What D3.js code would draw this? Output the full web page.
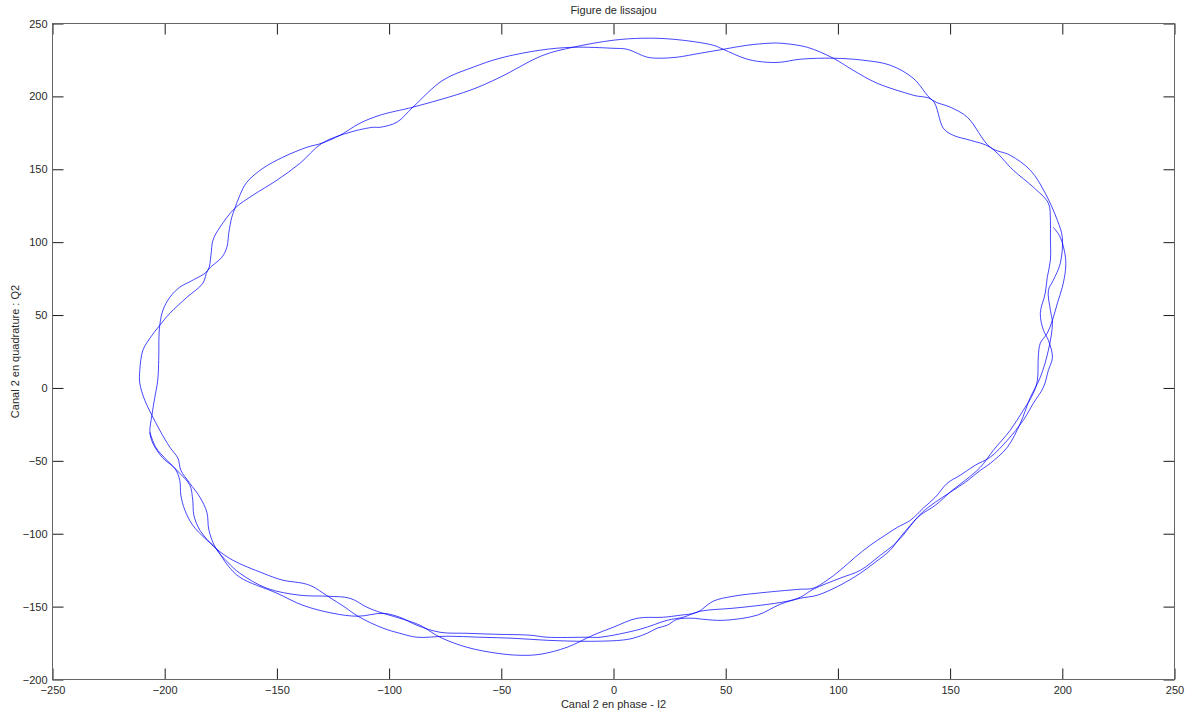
<!DOCTYPE html>
<html><head><meta charset="utf-8">
<script src="https://cdn.jsdelivr.net/npm/d3@7"></script>
<style>html,body{margin:0;padding:0;background:#fff;} svg{display:block;font-family:"Liberation Sans",Arial,Helvetica,sans-serif;}</style>
</head><body><svg id="chart" width="1187" height="715"></svg>
<script>
const titleText = "Figure de lissajou";
const xLabelText = "Canal 2 en phase - I2";
const yLabelText = "Canal 2 en quadrature : Q2";
const xTicks = [-250,-200,-150,-100,-50,0,50,100,150,200,250];
const yTicks = [-200,-150,-100,-50,0,50,100,150,200,250];

// [I2, Q2] samples
const pass1 = [
[-95.2,190.5],[-104.1,187.1],[-113.0,181.6],[-121.9,173.3],[-129.9,167.9],[-136.6,165.1],[-147.3,158.3],[-156.2,150.7],[-163.4,141.1],[-166.5,132.2],[-168.7,123.3],[-170.1,117.1],[-171.4,106.8],[-172.3,96.5],[-174.5,89.7],[-180.8,80.7],[-183.0,71.8],[-190.1,62.2],[-197.7,51.2],[-202.2,43.0],[-206.6,34.1],[-209.7,25.9],[-211.1,12.1],[-211.1,3.2],[-208.9,-8.4],[-205.7,-18.7],
[-202.2,-29.0],[-197.7,-40.7],[-194.1,-48.2],[-192.8,-56.5],[-188.8,-65.4],[-184.3,-75.0],[-181.2,-85.3],[-180.3,-97.6],[-177.2,-110.0],
[-171.9,-119.6],[-166.5,-127.1],[-154.5,-137.4],[-139.7,-142.2],[-127.3,-142.9],[-117.4,-144.3],[-109.9,-150.4],[-104.1,-153.9],[-95.2,-158.0],
[-86.2,-162.8],[-77.3,-171.0],[-65.3,-177.9],[-51.9,-182.0],[-41.6,-183.4],[-32.7,-182.7],[-20.7,-177.9],[-9.1,-169.6],[-0.2,-164.2],[10.5,-158.0],[22.1,-157.3],[29.7,-155.9],[37.3,-153.9],[44.4,-146.3],[53.3,-142.9],[68.5,-140.1],[83.2,-138.1],[89.0,-137.4],[95.2,-131.9],[101.0,-125.1],[107.7,-116.1],[114.4,-107.9],[121.1,-101.0],[126.5,-95.6],[132.3,-90.8],[138.0,-82.5],[143.4,-75.0],[148.7,-65.4],[154.5,-59.9],[161.2,-53.0],[167.9,-47.5],
[175.5,-35.9],[182.6,-22.2],[187.1,-10.5],[191.6,0.5],[193.8,12.1],[195.6,21.1],[193.8,32.7],[191.6,39.6],[190.2,51.2],[192.4,65.0],[193.3,75.9],[194.7,87.6],[194.7,103.4],[194.7,115.0],[193.8,126.7],[187.1,137.7],[178.2,149.3],
[167.9,165.1],[159.0,169.9],[151.4,173.3],[147.0,178.1],[142.1,197.4],[133.6,200.8],[117.5,209.0],[106.8,217.9],[97.9,226.2],[86.3,233.7],[74.3,236.5],
[69.8,236.5],[59.6,235.1],[48.9,232.3],[38.6,229.6],[28.4,226.9],[20.8,226.2],[15.0,226.9],[6.1,232.3],[-0.2,233.0],[-18.0,233.7],[-32.7,231.7],[-50.6,226.2],[-62.6,220.0],[-76.0,211.1],[-89.4,192.6],[-96.5,182.3],[-104.1,178.8]
];
const pass2 = [
[-107.2,178.8],[-117.4,175.4],[-129.9,167.9],[-139.7,154.1],[-150.0,142.5],[-160.7,132.2],[-168.7,123.3],[-175.4,110.2],[-178.5,101.3],[-179.4,91.0],[-180.8,80.7],[-187.5,73.9],[-193.3,69.1],[-197.7,62.2],[-200.8,53.3],[-202.2,43.0],[-202.6,32.7],[-202.6,25.9],[-203.1,5.3],[-204.4,-6.4],[-205.7,-18.7],[-206.6,-30.4],
[-205.3,-37.9],[-200.8,-48.2],[-195.5,-55.1],[-193.3,-63.3],[-192.8,-73.6],[-191.0,-83.9],[-187.5,-94.2],[-182.1,-103.1],[-177.2,-110.0],
[-171.9,-121.7],[-166.5,-129.9],[-150.0,-140.8],[-138.4,-149.1],[-125.0,-154.6],[-113.9,-156.6],[-102.7,-154.6],[-95.2,-157.3],
[-87.6,-162.8],[-77.3,-167.6],[-65.3,-168.3],[-51.9,-169.0],[-37.2,-169.6],[-29.6,-171.0],[-11.8,-171.0],[-6.0,-171.0],[11.9,-165.5],[23.9,-159.4],[31.0,-157.3],[38.6,-153.2],[53.3,-151.1],[65.4,-149.1],[77.4,-146.3],[83.2,-143.6],[89.0,-138.1],[101.0,-130.5],[110.0,-125.1],[118.9,-114.8],[124.7,-107.9],[129.1,-101.0],[133.6,-92.1],[137.6,-85.3],[143.4,-78.4],[150.1,-71.5],[156.8,-64.7],[163.5,-56.5],[167.9,-51.7],
[175.5,-40.7],[181.3,-24.2],[185.8,-6.4],[190.2,7.3],[193.8,25.9],[195.6,44.4],[194.7,53.3],[193.8,67.0],[196.0,73.9],[199.1,85.5],[200.0,103.4],[197.8,115.0],[192.4,133.6],[185.8,149.3],
[176.8,159.6],[167.9,165.1],[157.7,185.7],[150.1,192.6],[142.1,197.4],[133.6,212.4],[123.3,221.4],[111.3,224.8],[97.9,226.2],[83.2,225.5],[74.3,223.4],
[68.5,223.4],[59.6,225.5],[48.9,232.3],[44.4,235.1],[26.6,239.2],[13.2,239.9],[-0.2,238.5],[-18.0,233.7],[-31.4,228.2],[-50.6,213.1],[-63.9,204.2],[-89.4,192.6]
];
const pass3 = [
[-206.6,-30.4],[-204.0,-40.7],[-199.0,-49.6],[-193.3,-58.5],[-188.8,-66.7],[-187.5,-77.0],[-187.0,-87.3],[-184.3,-97.6],[-177.2,-110.0],
[-169.6,-118.2],[-156.2,-127.1],[-147.3,-131.9],[-138.4,-134.0],[-134.4,-136.0],[-127.3,-142.9],[-119.7,-150.4],[-113.9,-156.6],[-102.7,-164.8],[-95.2,-168.3],
[-87.6,-171.0],[-74.2,-170.3],[-59.5,-171.0],[-44.8,-171.7],[-29.6,-173.1],[-11.8,-173.8],[2.9,-173.1],[8.7,-171.7],[15.0,-168.3],[19.4,-164.8],[23.9,-162.8],[28.4,-158.7],[35.5,-158.0],[40.0,-158.7],[48.9,-159.4],[64.0,-155.9],[74.3,-148.4],[83.2,-144.3],[90.8,-142.2],[101.0,-135.3],[110.0,-127.1],[116.6,-119.6],[123.3,-111.3],[127.8,-102.4],[132.3,-94.2],[136.7,-87.3],[143.4,-80.5],[151.0,-70.2],[156.8,-63.3],[163.5,-54.4],[169.3,-42.7],
[176.8,-29.0],[182.6,-15.3],[187.1,-3.6],[188.9,5.3],[189.3,21.1],[190.2,30.7],[193.3,37.5],[195.6,46.4],[197.8,58.1],[200.0,69.1],[201.4,80.7],[201.4,89.7],[199.1,103.4],[196.0,110.2]
];

const svg = d3.select("#chart");
const plot = {left:52.5, right:1174.5, top:23.5, bottom:679.5};
const x = d3.scaleLinear().domain([-250,250]).range([plot.left, plot.right]);
const y = d3.scaleLinear().domain([-200,250]).range([plot.bottom, plot.top]);

svg.append("rect").attr("width",1187).attr("height",715).attr("fill","#fff");

function styleAxis(g){
  g.select(".domain").remove();
  g.selectAll(".tick line").attr("stroke","#1a1a1a");
  g.selectAll(".tick text").attr("fill","#2a2a2a").style("font-size","11px").style("font-family",'"Liberation Sans",Arial,sans-serif');
}
const tl = 11;
svg.append("g").attr("transform",`translate(0,${plot.bottom})`)
  .call(d3.axisBottom(x).tickValues(xTicks).tickSizeInner(-tl).tickSizeOuter(0).tickPadding(7).tickFormat(d3.format("d")))
  .call(styleAxis);
svg.append("g").attr("transform",`translate(0,${plot.top})`)
  .call(d3.axisTop(x).tickValues(xTicks).tickSizeInner(-tl).tickSizeOuter(0).tickFormat(""))
  .call(styleAxis);
svg.append("g").attr("transform",`translate(${plot.left},0)`)
  .call(d3.axisLeft(y).tickValues(yTicks).tickSizeInner(-tl).tickSizeOuter(0).tickPadding(5).tickFormat(d3.format("d")))
  .call(styleAxis);
svg.append("g").attr("transform",`translate(${plot.right},0)`)
  .call(d3.axisRight(y).tickValues(yTicks).tickSizeInner(-tl).tickSizeOuter(0).tickFormat(""))
  .call(styleAxis);

svg.append("rect").attr("x",plot.left).attr("y",plot.top)
  .attr("width",plot.right-plot.left).attr("height",plot.bottom-plot.top)
  .attr("fill","none").attr("stroke","#666").attr("stroke-width",1);

const line = d3.line().x(d=>x(d[0])).y(d=>y(d[1])).curve(d3.curveCatmullRom.alpha(0.5));
const loop = pass1.concat(pass2, [pass1[0]]);
const traces = [loop, pass3];
svg.append("g").selectAll("path").data(traces).join("path")
  .attr("d", line).attr("fill","none").attr("stroke","#0000ff").attr("stroke-width",1).attr("stroke-opacity",0.72);

svg.append("text").attr("x",(plot.left+plot.right)/2).attr("y",14).attr("text-anchor","middle")
  .attr("fill","#2a2a2a").style("font-size","11px").text(titleText);
svg.append("text").attr("x",(plot.left+plot.right)/2).attr("y",708).attr("text-anchor","middle")
  .attr("fill","#2a2a2a").style("font-size","11px").text(xLabelText);
svg.append("text").attr("transform",`translate(19,${(plot.top+plot.bottom)/2}) rotate(-90)`).attr("text-anchor","middle")
  .attr("fill","#2a2a2a").style("font-size","11px").text(yLabelText);
</script></body></html>
